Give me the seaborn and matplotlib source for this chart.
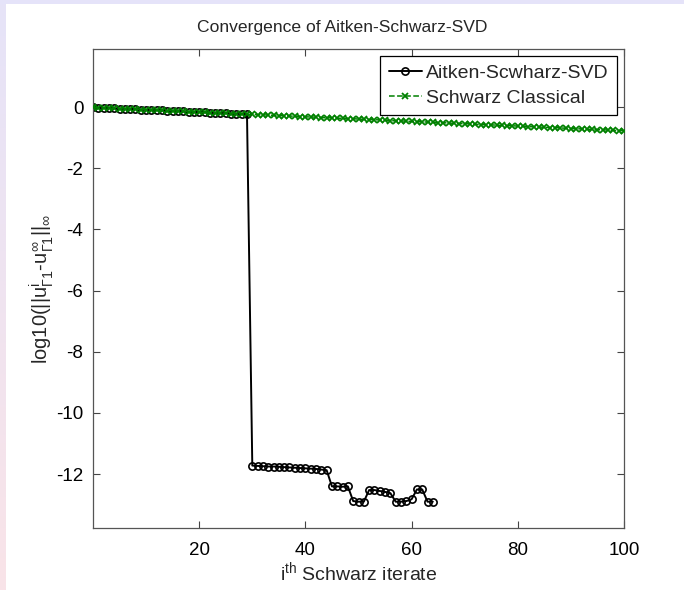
import numpy as np
import pandas as pd
import matplotlib
matplotlib.use("Agg")
import matplotlib.pyplot as plt
from matplotlib.colors import LinearSegmentedColormap
import seaborn as sns

# Error history of the classical Schwarz iteration (log10 of the interface error)
iters_classical = list(range(0, 101))
err_classical = [
    -0.01,
    -0.02, -0.03, -0.03, -0.04, -0.05, -0.06, -0.06, -0.07, -0.08, -0.09,
    -0.09, -0.10, -0.11, -0.12, -0.12, -0.13, -0.14, -0.15, -0.16, -0.16,
    -0.17, -0.18, -0.19, -0.19, -0.20, -0.21, -0.22, -0.22, -0.23, -0.24,
    -0.25, -0.25, -0.26, -0.27, -0.28, -0.28, -0.29, -0.30, -0.31, -0.32,
    -0.32, -0.33, -0.34, -0.35, -0.35, -0.36, -0.37, -0.38, -0.38, -0.39,
    -0.40, -0.41, -0.41, -0.42, -0.43, -0.44, -0.45, -0.45, -0.46, -0.47,
    -0.48, -0.48, -0.49, -0.50, -0.51, -0.51, -0.52, -0.53, -0.54, -0.54,
    -0.55, -0.56, -0.57, -0.58, -0.58, -0.59, -0.60, -0.61, -0.61, -0.62,
    -0.63, -0.64, -0.64, -0.65, -0.66, -0.67, -0.67, -0.68, -0.69, -0.70,
    -0.71, -0.71, -0.72, -0.73, -0.74, -0.74, -0.75, -0.76, -0.77, -0.77,
]

# Error history with the Aitken-SVD acceleration applied after iteration 29
iters_aitken = list(range(0, 65))
err_aitken = [
    -0.01,
    -0.02, -0.03, -0.03, -0.04, -0.05, -0.06, -0.06, -0.07, -0.08, -0.09,
    -0.09, -0.10, -0.11, -0.12, -0.12, -0.13, -0.14, -0.15, -0.16, -0.16,
    -0.17, -0.18, -0.19, -0.19, -0.20, -0.21, -0.22, -0.22, -0.23,
    -11.72, -11.73, -11.74, -11.75, -11.75, -11.76, -11.77, -11.78, -11.79,
    -11.80, -11.81, -11.82, -11.83, -11.85, -11.87,
    -12.40, -12.40, -12.41, -12.40,
    -12.88, -12.90, -12.90,
    -12.52, -12.52, -12.55, -12.58, -12.62,
    -12.90, -12.90, -12.88, -12.82,
    -12.50, -12.50,
    -12.90, -12.90,
]

label_aitken = "Aitken-Scwharz-SVD"
label_classical = "Schwarz Classical"
x_ticks = [20, 40, 60, 80, 100]
y_ticks = [0, -2, -4, -6, -8, -10, -12]

sns.set_theme(style="white")
plt.rcParams["font.family"] = ["Liberation Sans", "DejaVu Sans"]
plt.rcParams["mathtext.fontset"] = "custom"
plt.rcParams["mathtext.rm"] = "Liberation Sans"
plt.rcParams["mathtext.it"] = "Liberation Sans"
plt.rcParams["mathtext.sf"] = "Liberation Sans"
plt.rcParams["axes.unicode_minus"] = False

fig = plt.figure(figsize=(6.84, 5.90), dpi=100)
fig.patch.set_facecolor("white")

# Thin tinted frame along the top and left edges of the canvas
top_band = fig.add_axes([0, 1 - 4 / 590, 1, 4 / 590])
top_band.set_axis_off()
top_band.add_patch(plt.Rectangle((0, 0), 1, 1, transform=top_band.transAxes,
                                 color="#e5e3f9"))
left_band = fig.add_axes([0, 0, 5.5 / 684, 1 - 4 / 590])
grad = np.linspace(0, 1, 256).reshape(-1, 1)
band_cmap = LinearSegmentedColormap.from_list("band", ["#e6e3f8", "#f9e3e8"])
left_band.imshow(grad, aspect="auto", cmap=band_cmap, origin="upper")
left_band.set_axis_off()

ax = fig.add_axes([93 / 684, 1 - 528 / 590, (624 - 93) / 684, (528 - 49) / 590])

df_a = pd.DataFrame({"iter": iters_aitken, "err": err_aitken})
df_c = pd.DataFrame({"iter": iters_classical, "err": err_classical})

sns.lineplot(data=df_a, x="iter", y="err", ax=ax, color="black", lw=1.4,
             marker="o", markersize=5.2, markerfacecolor="none",
             markeredgecolor="black", markeredgewidth=1.2,
             label=label_aitken, zorder=2)
sns.lineplot(data=df_c, x="iter", y="err", ax=ax, color="#008000", lw=1.1,
             linestyle="--", marker="x", markersize=4.5,
             markeredgecolor="#008000", markeredgewidth=1.3,
             label=label_classical, zorder=3)

ax.set_xlim(0, 100)
ax.set_ylim(-13.76, 1.9)
ax.set_xticks(x_ticks)
ax.set_yticks(y_ticks)
ax.tick_params(axis="both", direction="in", length=5, width=0.8,
               colors="#444444", labelcolor="black", labelsize=13.5,
               top=True, right=True, bottom=True, left=True)
ax.tick_params(axis="x", pad=10)
ax.tick_params(axis="y", pad=7)
for sp in ax.spines.values():
    sp.set_color("#555555")
    sp.set_linewidth(0.9)

ax.set_title("Convergence of Aitken-Schwarz-SVD", fontsize=12.6, pad=12,
             x=(342 - 93) / 531)
ax.set_xlabel(r"i$^{\mathrm{th}}$ Schwarz iterate", fontsize=14, labelpad=1)
ax.set_ylabel(r"log10(||u$^{\mathrm{i}}_{\Gamma1}$-u$^{\infty}_{\Gamma1}$||$_{\infty}$",
              fontsize=14.5, labelpad=0)

leg = ax.legend(loc="upper right", fontsize=14, frameon=True, fancybox=False,
                edgecolor="black", framealpha=1, handlelength=1.7,
                handletextpad=0.2, borderpad=0.45, labelspacing=0.35,
                borderaxespad=0.35)
leg.get_frame().set_linewidth(0.9)

fig.savefig("out.png", dpi=100)
